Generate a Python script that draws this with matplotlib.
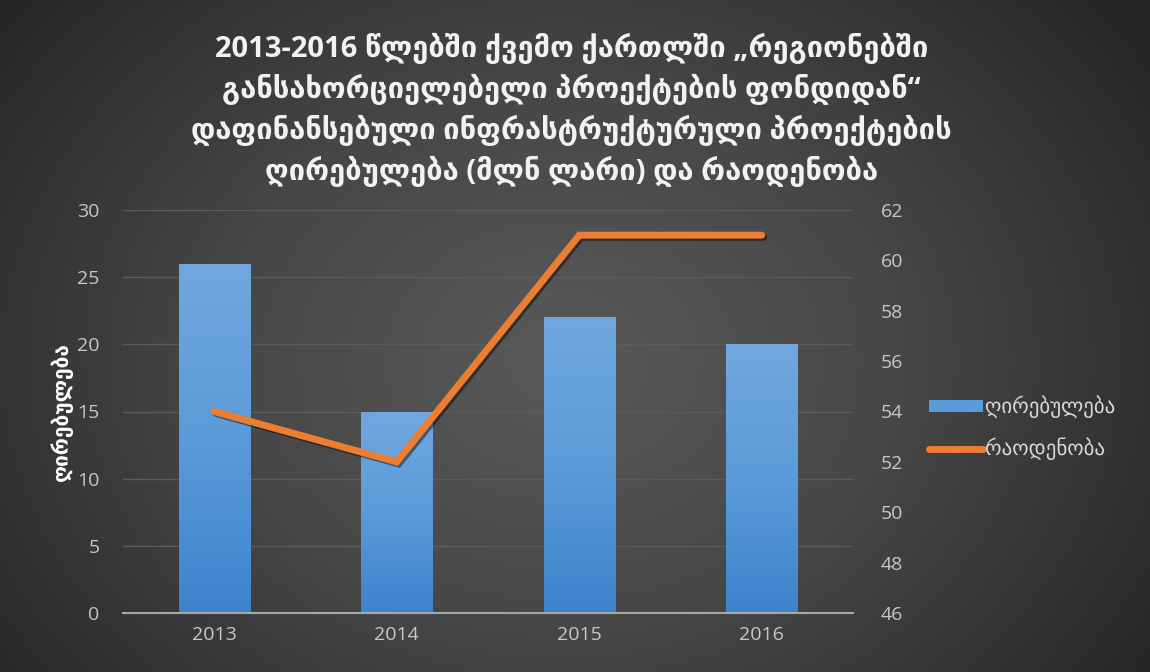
import numpy as np
import matplotlib
matplotlib.use("Agg")
import matplotlib.pyplot as plt
import matplotlib.patheffects as pe
from matplotlib.colors import LinearSegmentedColormap
from matplotlib.patches import Patch
from matplotlib.lines import Line2D

plt.rcParams['font.family'] = ['Open Sans', 'DejaVu Sans']

years = ['2013', '2014', '2015', '2016']
cost = [26, 15, 22, 20]          # ღირებულება (მლნ ლარი)
count = [54, 52, 61, 61]         # რაოდენობა
left_ticks = [0, 5, 10, 15, 20, 25, 30]
right_ticks = [46, 48, 50, 52, 54, 56, 58, 60, 62]

title = ("2013-2016 წლებში ქვემო ქართლში „რეგიონებში\n"
         "განსახორციელებელი პროექტების ფონდიდან“\n"
         "დაფინანსებული ინფრასტრუქტურული პროექტების\n"
         "ღირებულება (მლნ ლარი) და რაოდენობა")

W, H = 1150, 672
fig = plt.figure(figsize=(W / 100, H / 100), dpi=100)

# radial dark background
bg = fig.add_axes([0, 0, 1, 1], zorder=-10)
yy, xx = np.mgrid[0:H, 0:W]
cx, cy = 560, 360
d = np.sqrt(((xx - cx) / 700.0) ** 2 + ((yy - cy) / 560.0) ** 2)
d = np.clip(d, 0, 1)
bg_cmap = LinearSegmentedColormap.from_list('bg', ['#5a5a5a', '#464646', '#272727'])
bg.imshow(d, cmap=bg_cmap, vmin=0, vmax=1, aspect='auto', extent=[0, W, H, 0])
bg.axis('off')

ax = fig.add_axes([123 / W, 59 / H, 730 / W, 403 / H])
ax.set_facecolor('none')
x = np.arange(len(years))

ax.yaxis.grid(True, color='#5c5c5c', linewidth=1.0)
ax.set_axisbelow(True)

bar_w = 0.39
bars = ax.bar(x, cost, width=bar_w, color='none', zorder=2)
grad = np.linspace(0, 1, 256).reshape(-1, 1)
bar_cmap = LinearSegmentedColormap.from_list('bar', ['#3d83cc', '#5b9bd9', '#71a7de'])
for b in bars:
    x0, y0 = b.get_x(), b.get_y()
    im = ax.imshow(grad, cmap=bar_cmap, origin='lower', aspect='auto',
                   extent=[x0, x0 + b.get_width(), y0, y0 + b.get_height()],
                   zorder=2)
    im.set_clip_path(b)
ax.set_xlim(-0.5, len(years) - 0.5)
ax.set_ylim(0, 30)
ax.set_yticks(left_ticks)

for s in ['top', 'right', 'left']:
    ax.spines[s].set_visible(False)
ax.spines['bottom'].set_color('#a6a6a6')
ax.spines['bottom'].set_linewidth(1.5)
ax.set_xticks(x)
ax.set_xticklabels(years)
ax.tick_params(axis='both', length=0, colors='#c8c8c8', labelsize=14)
ax.tick_params(axis='x', pad=9)
ax.tick_params(axis='y', pad=17)

ax.set_ylabel('ღირებულება', color='white', fontsize=15, fontweight='bold',
              labelpad=3)

ax2 = ax.twinx()
ax2.set_ylim(46, 62)
ax2.set_yticks(right_ticks)
for s in ax2.spines.values():
    s.set_visible(False)
ax2.tick_params(axis='y', length=0, colors='#c8c8c8', labelsize=14, pad=20)
ax2.plot(x, count, color='#ed7d31', linewidth=5, solid_capstyle='round',
         solid_joinstyle='miter', zorder=5,
         path_effects=[pe.SimpleLineShadow(offset=(1.5, -1.5), alpha=0.45,
                                           shadow_color='black'),
                       pe.Normal()])

# legend
handles = [Patch(facecolor='#5b9bd9', edgecolor='none'),
           Line2D([0], [0], color='#ed7d31', linewidth=5, solid_capstyle='round')]
fig.legend(handles, ['ღირებულება', 'რაოდენობა'], loc='center left',
           bbox_to_anchor=(910 / W, 1 - 428 / H), frameon=False,
           fontsize=15, labelcolor='#d9d9d9', handlelength=2.6,
           handleheight=0.5, handletextpad=0.1, labelspacing=0.95)

fig.text(0.497, 1 - 110 / H, title, ha='center', va='center', color='#f2f2f2',
         fontsize=21, fontweight='bold', linespacing=1.42)

fig.savefig('out.png', dpi=100)
